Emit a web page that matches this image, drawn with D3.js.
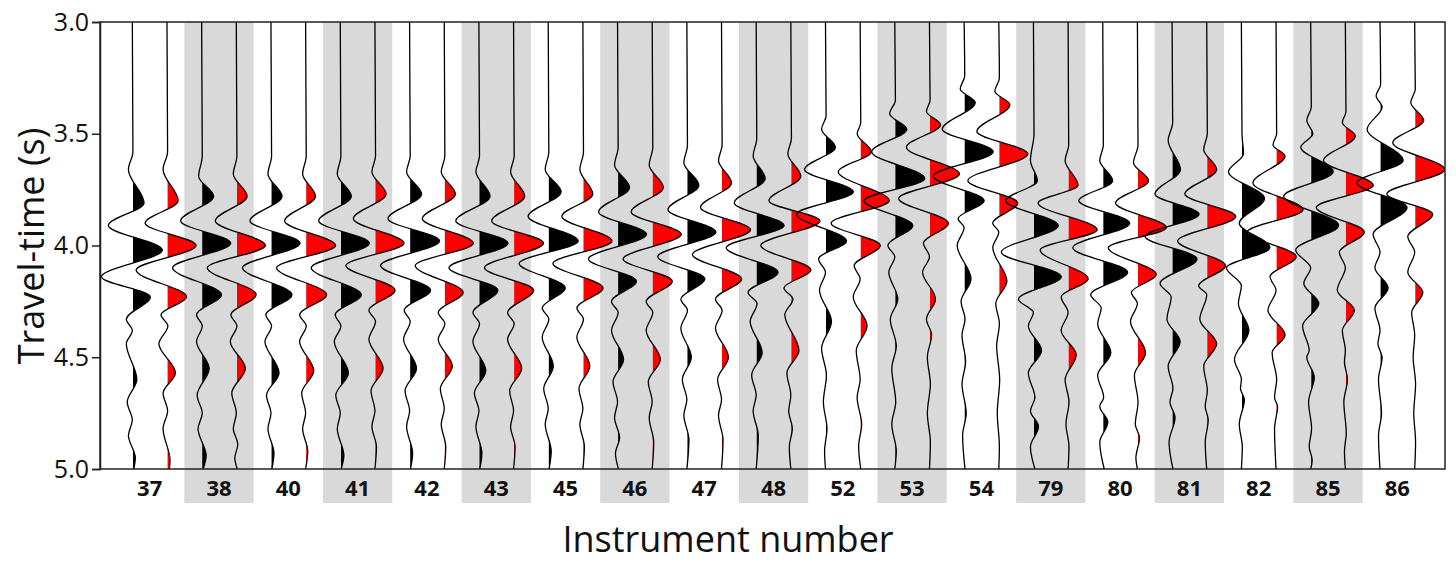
<!DOCTYPE html>
<html>
<head>
<meta charset="utf-8">
<script src="https://cdn.jsdelivr.net/npm/d3@7"></script>
<style>
  body { margin: 0; background: #fff; }
  svg { display: block; font-family: "Open Sans", "Noto Sans", sans-serif; }
</style>
</head>
<body>
<svg id="chart" width="1456" height="565"></svg>
<script>
// instrument numbers along the bottom
var instruments = ['37','38','40','41','42','43','45','46','47','48','52','53','54','79','80','81','82','85','86'];
var yTicks = [3.0, 3.5, 4.0, 4.5, 5.0];

// each trace: [travel-time (s), normalised amplitude] at zero level / lobe peaks
var blackTraces = [
  [[3.0,0],[3.58,0.02],[3.66,-0.13],[3.81,0.39],[3.91,-0.8],[4.02,1.0],[4.14,-1.03],[4.23,0.6],[4.33,-0.2],[4.38,0.0],[4.44,-0.2],[4.6,0.15],[4.7,-0.17],[4.78,0.0],[4.85,-0.13],[4.95,0.1],[5.0,0.05]],
  [[3.0,0],[3.6,0.02],[3.69,-0.1],[3.78,0.4],[3.89,-0.7],[3.99,0.97],[4.1,-0.97],[4.22,0.66],[4.31,-0.17],[4.36,0.02],[4.43,-0.17],[4.55,0.25],[4.67,-0.15],[4.75,0.02],[4.82,-0.12],[4.94,0.15],[5.0,0.05]],
  [[3.0,0],[3.6,0.02],[3.68,-0.1],[3.78,0.37],[3.89,-0.7],[3.99,0.97],[4.1,-0.95],[4.22,0.7],[4.31,-0.17],[4.36,0.02],[4.43,-0.2],[4.57,0.27],[4.67,-0.15],[4.75,0.0],[4.82,-0.1],[4.93,0.1],[5.0,0.03]],
  [[3.0,0],[3.6,0.02],[3.68,-0.1],[3.78,0.37],[3.89,-0.72],[3.99,0.97],[4.1,-0.97],[4.22,0.7],[4.31,-0.17],[4.36,0.02],[4.43,-0.2],[4.57,0.27],[4.67,-0.15],[4.75,0.0],[4.82,-0.1],[4.94,0.12],[5.0,0.03]],
  [[3.0,0],[3.6,0.02],[3.67,-0.1],[3.77,0.4],[3.88,-0.72],[3.98,1.0],[4.09,-0.97],[4.2,0.7],[4.29,-0.18],[4.34,0.02],[4.42,-0.2],[4.55,0.23],[4.65,-0.15],[4.74,0.0],[4.81,-0.1],[4.93,0.1],[5.0,0.03]],
  [[3.0,0],[3.6,0.02],[3.67,-0.1],[3.78,0.37],[3.89,-0.77],[3.99,0.97],[4.1,-1.0],[4.2,0.63],[4.3,-0.2],[4.35,0.02],[4.43,-0.2],[4.56,0.23],[4.66,-0.15],[4.74,0.0],[4.81,-0.1],[4.93,0.1],[5.0,0.03]],
  [[3.0,0],[3.58,0.02],[3.66,-0.1],[3.76,0.43],[3.87,-0.67],[3.98,1.0],[4.08,-0.97],[4.19,0.57],[4.28,-0.2],[4.33,0.02],[4.41,-0.2],[4.54,0.17],[4.64,-0.15],[4.73,0.0],[4.8,-0.1],[4.92,0.1],[5.0,0.03]],
  [[3.0,0],[3.56,0.02],[3.64,-0.1],[3.74,0.4],[3.85,-0.63],[3.95,0.97],[4.06,-0.97],[4.16,0.63],[4.25,-0.2],[4.3,0.02],[4.38,-0.2],[4.51,0.2],[4.61,-0.15],[4.7,0.0],[4.77,-0.1],[4.86,0.07],[4.93,-0.07],[5.0,0.03]],
  [[3.0,0],[3.55,0.02],[3.63,-0.1],[3.73,0.4],[3.84,-0.63],[3.94,0.97],[4.05,-0.97],[4.15,0.6],[4.24,-0.2],[4.29,0.02],[4.37,-0.2],[4.5,0.15],[4.6,-0.15],[4.69,0.0],[4.76,-0.1],[4.87,0.07],[5.0,0]],
  [[3.0,0],[3.52,0.02],[3.6,-0.1],[3.7,0.3],[3.81,-0.73],[3.91,0.93],[4.01,-1.0],[4.12,0.73],[4.21,-0.27],[4.26,0.03],[4.34,-0.2],[4.48,0.2],[4.58,-0.15],[4.67,0.0],[4.74,-0.1],[4.85,0.07],[5.0,0]],
  [[3.0,0],[3.42,0.02],[3.48,-0.13],[3.56,0.33],[3.66,-0.7],[3.76,0.93],[3.86,-0.97],[3.98,0.7],[4.06,-0.23],[4.12,0.0],[4.2,-0.2],[4.34,0.2],[4.46,-0.13],[4.58,0.03],[4.7,-0.07],[4.82,0.05],[4.92,-0.03],[5.0,0]],
  [[3.0,0],[3.35,0.02],[3.41,-0.17],[3.48,0.4],[3.58,-0.77],[3.7,1.0],[3.8,-1.03],[3.91,0.6],[4.0,-0.23],[4.05,0.0],[4.12,-0.2],[4.24,0.1],[4.33,-0.15],[4.45,0.05],[4.55,-0.1],[4.7,0.03],[4.8,-0.1],[4.92,0.05],[5.0,0]],
  [[3.0,0],[3.24,0.02],[3.3,-0.13],[3.36,0.37],[3.48,-0.73],[3.58,0.97],[3.69,-1.03],[3.8,0.67],[3.88,-0.2],[3.92,0.0],[4.0,-0.23],[4.15,0.23],[4.25,-0.1],[4.33,0.03],[4.4,-0.07],[4.52,0.05],[4.62,-0.07],[4.75,0.07],[4.85,-0.05],[5.0,0.03]],
  [[3.0,0],[3.5,0.02],[3.62,-0.1],[3.71,0.13],[3.8,-0.93],[3.91,0.83],[4.03,-1.07],[4.14,0.93],[4.24,-0.5],[4.3,0.0],[4.36,-0.17],[4.47,0.27],[4.57,-0.17],[4.68,0.05],[4.74,-0.1],[4.81,0.17],[4.9,-0.1],[5.0,0.05]],
  [[3.0,0],[3.55,0.02],[3.62,-0.1],[3.71,0.33],[3.8,-0.8],[3.9,0.9],[4.01,-1.0],[4.12,0.83],[4.22,-0.4],[4.28,-0.05],[4.35,-0.17],[4.48,0.27],[4.58,-0.17],[4.68,0.03],[4.72,-0.1],[4.79,0.17],[4.88,-0.1],[5.0,0.05]],
  [[3.0,0],[3.45,0.02],[3.53,-0.13],[3.66,0.28],[3.77,-0.57],[3.86,0.9],[3.96,-0.9],[4.06,0.83],[4.17,-0.4],[4.23,-0.03],[4.33,-0.17],[4.43,0.27],[4.54,-0.13],[4.64,0.03],[4.7,-0.07],[4.77,0.1],[4.88,-0.1],[5.0,0.03]],
  [[3.0,0],[3.5,0.02],[3.59,0.07],[3.67,-0.43],[3.79,0.77],[3.9,-0.07],[4.01,0.95],[4.1,-0.5],[4.18,0.0],[4.26,-0.1],[4.38,0.25],[4.51,-0.23],[4.6,0.0],[4.64,-0.03],[4.69,0.1],[4.8,-0.07],[4.9,0.03],[5.0,0]],
  [[3.0,0],[3.38,0.02],[3.44,-0.13],[3.5,0.07],[3.56,-0.33],[3.67,0.75],[3.78,-0.9],[3.91,0.93],[4.02,-0.5],[4.1,0.0],[4.17,-0.23],[4.26,0.27],[4.36,-0.27],[4.47,-0.05],[4.5,-0.13],[4.59,0.12],[4.7,-0.07],[4.82,0.03],[4.9,-0.05],[4.96,0.05],[5.0,0]],
  [[3.0,0],[3.28,0.02],[3.33,-0.13],[3.38,0.07],[3.48,-0.43],[3.62,0.77],[3.72,-0.77],[3.83,0.9],[3.95,-0.23],[4.03,0.0],[4.1,-0.17],[4.19,0.27],[4.28,-0.17],[4.38,0.0],[4.44,-0.07],[4.5,0.07],[4.6,-0.05],[4.75,0.05],[4.85,-0.05],[5.0,0]]
];

var redTraces = [
  [[3.0,0],[3.58,0.02],[3.66,-0.13],[3.8,0.37],[3.9,-0.73],[4.0,0.97],[4.11,-1.03],[4.23,0.65],[4.31,-0.2],[4.36,0.03],[4.44,-0.27],[4.57,0.28],[4.66,-0.13],[4.74,0.02],[4.82,-0.13],[4.96,0.1],[5.0,0.08]],
  [[3.0,0],[3.6,0.02],[3.68,-0.1],[3.78,0.36],[3.89,-0.7],[4.0,0.97],[4.1,-0.97],[4.22,0.66],[4.31,-0.18],[4.36,0.02],[4.43,-0.2],[4.55,0.3],[4.66,-0.15],[4.75,0.0],[4.82,-0.1],[4.89,0.05],[4.95,-0.05],[5.0,0.03]],
  [[3.0,0],[3.6,0.02],[3.68,-0.1],[3.78,0.33],[3.89,-0.7],[4.0,1.0],[4.1,-0.97],[4.22,0.7],[4.31,-0.2],[4.36,0.02],[4.43,-0.2],[4.56,0.27],[4.66,-0.13],[4.75,0.0],[4.82,-0.1],[4.92,0.07],[5.0,0]],
  [[3.0,0],[3.6,0.02],[3.67,-0.1],[3.77,0.37],[3.88,-0.72],[3.99,0.97],[4.09,-0.97],[4.2,0.67],[4.29,-0.2],[4.34,0.02],[4.42,-0.2],[4.55,0.27],[4.65,-0.13],[4.74,0.0],[4.81,-0.1],[4.9,0.05],[5.0,0]],
  [[3.0,0],[3.6,0.02],[3.67,-0.1],[3.77,0.37],[3.88,-0.73],[3.99,0.97],[4.09,-0.97],[4.21,0.63],[4.3,-0.2],[4.35,0.02],[4.42,-0.2],[4.54,0.27],[4.64,-0.13],[4.73,0.0],[4.8,-0.1],[4.9,0.05],[5.0,0]],
  [[3.0,0],[3.6,0.02],[3.67,-0.1],[3.78,0.37],[3.89,-0.73],[3.99,1.0],[4.1,-0.97],[4.2,0.67],[4.3,-0.2],[4.35,0.02],[4.42,-0.2],[4.55,0.27],[4.65,-0.13],[4.74,0.0],[4.81,-0.1],[4.9,0.05],[5.0,0]],
  [[3.0,0],[3.58,0.02],[3.66,-0.1],[3.77,0.33],[3.87,-0.7],[3.98,0.97],[4.08,-1.0],[4.19,0.67],[4.28,-0.2],[4.33,0.02],[4.41,-0.2],[4.54,0.23],[4.64,-0.13],[4.73,0.0],[4.8,-0.1],[4.9,0.05],[5.0,0]],
  [[3.0,0],[3.56,0.02],[3.64,-0.1],[3.74,0.37],[3.85,-0.7],[3.95,0.97],[4.06,-0.97],[4.16,0.67],[4.25,-0.2],[4.3,0.02],[4.38,-0.2],[4.51,0.27],[4.61,-0.13],[4.7,0.0],[4.77,-0.1],[4.88,0.05],[5.0,0]],
  [[3.0,0],[3.55,0.02],[3.62,-0.1],[3.72,0.33],[3.83,-0.7],[3.93,0.97],[4.04,-0.97],[4.15,0.67],[4.24,-0.2],[4.29,0.02],[4.37,-0.2],[4.5,0.23],[4.6,-0.13],[4.69,0.0],[4.76,-0.1],[4.87,0.05],[5.0,0]],
  [[3.0,0],[3.52,0.02],[3.59,-0.1],[3.69,0.33],[3.8,-0.73],[3.89,0.97],[4.0,-1.0],[4.11,0.67],[4.19,-0.23],[4.24,0.07],[4.31,-0.2],[4.47,0.27],[4.57,-0.13],[4.67,0.0],[4.74,-0.07],[4.82,0.05],[4.9,-0.05],[5.0,0]],
  [[3.0,0],[3.45,0.02],[3.5,-0.1],[3.58,0.37],[3.67,-0.73],[3.8,0.97],[3.9,-0.97],[4.0,0.67],[4.09,-0.2],[4.15,0.0],[4.23,-0.23],[4.36,0.23],[4.47,-0.13],[4.6,0.0],[4.68,-0.1],[4.8,0.05],[4.9,-0.05],[5.0,0.02]],
  [[3.0,0],[3.35,0.02],[3.4,-0.1],[3.46,0.37],[3.56,-0.77],[3.68,1.0],[3.79,-1.03],[3.9,0.63],[3.99,-0.2],[4.05,0.0],[4.12,-0.23],[4.24,0.2],[4.33,-0.1],[4.4,0.07],[4.5,-0.07],[4.62,0.03],[4.75,-0.07],[4.88,0.03],[5.0,0]],
  [[3.0,0],[3.25,0.02],[3.31,-0.13],[3.37,0.37],[3.49,-0.73],[3.59,0.97],[3.71,-1.03],[3.81,0.63],[3.9,-0.2],[3.94,0.0],[4.01,-0.2],[4.16,0.27],[4.26,-0.1],[4.35,0.02],[4.45,-0.07],[4.6,0.03],[4.75,-0.05],[4.9,0.02],[5.0,0]],
  [[3.0,0],[3.55,0.02],[3.62,-0.1],[3.73,0.33],[3.81,-1.0],[3.93,0.97],[4.02,-0.93],[4.15,0.67],[4.23,-0.23],[4.3,0.0],[4.38,-0.23],[4.49,0.27],[4.6,-0.1],[4.7,0.03],[4.8,-0.07],[4.9,0.03],[5.0,0]],
  [[3.0,0],[3.55,0.02],[3.63,-0.13],[3.71,0.37],[3.81,-0.73],[3.92,0.97],[4.01,-0.97],[4.13,0.63],[4.21,-0.2],[4.26,0.0],[4.34,-0.23],[4.48,0.27],[4.58,-0.1],[4.7,0.02],[4.8,-0.07],[4.86,0.07],[4.95,-0.05],[5.0,0]],
  [[3.0,0],[3.5,0.02],[3.57,-0.1],[3.66,0.33],[3.77,-0.73],[3.87,0.97],[3.98,-0.97],[4.09,0.63],[4.18,-0.27],[4.22,0.0],[4.33,-0.23],[4.44,0.33],[4.54,-0.1],[4.65,0.02],[4.72,-0.05],[4.78,0.05],[4.88,-0.05],[5.0,0]],
  [[3.0,0],[3.5,0.02],[3.55,-0.1],[3.6,0.3],[3.72,-0.77],[3.84,0.9],[3.94,-0.97],[4.05,0.67],[4.14,-0.2],[4.2,0.0],[4.29,-0.27],[4.4,0.3],[4.48,-0.13],[4.6,0.02],[4.68,-0.05],[4.72,0.05],[4.82,-0.05],[5.0,0]],
  [[3.0,0],[3.4,0.02],[3.45,-0.1],[3.51,0.33],[3.62,-0.73],[3.73,0.93],[3.83,-0.97],[3.94,0.63],[4.03,-0.2],[4.1,0.0],[4.2,-0.27],[4.29,0.3],[4.38,-0.1],[4.47,0.0],[4.52,-0.03],[4.6,0.07],[4.7,-0.05],[4.84,0.03],[4.92,-0.03],[5.0,0]],
  [[3.0,0],[3.3,0.02],[3.36,-0.13],[3.44,0.3],[3.54,-0.73],[3.66,1.0],[3.77,-0.93],[3.86,0.6],[3.96,-0.23],[4.03,0.0],[4.12,-0.23],[4.21,0.27],[4.3,-0.1],[4.4,0.0],[4.5,-0.05],[4.62,0.03],[4.75,-0.03],[4.88,0.03],[5.0,0]]
];

var svg = d3.select('#chart');
var plotLeft = 100, plotRight = 1445, plotTop = 22, plotBottom = 469;

var y = d3.scaleLinear().domain([3, 5]).range([plotTop, plotBottom]);
var x = d3.scaleBand().domain(instruments).range([115, 1432]);
var bw = x.bandwidth();
var amp = d3.scaleLinear().domain([0, 1]).range([0, 30]);

// alternate grey columns, running down under the labels
svg.append('g').selectAll('rect')
  .data(instruments.filter(function(d, i) { return i % 2 === 1; }))
  .enter().append('rect')
  .attr('x', function(d) { return x(d); })
  .attr('y', plotTop)
  .attr('width', bw)
  .attr('height', 503 - plotTop)
  .attr('fill', '#d9d9d9');

var defs = svg.append('defs');
defs.append('clipPath').attr('id', 'plot-clip')
  .append('rect').attr('x', plotLeft).attr('y', plotTop)
  .attr('width', plotRight - plotLeft).attr('height', plotBottom - plotTop);

var traces = [];
instruments.forEach(function(inst, i) {
  traces.push({ id: 'b' + i, base: x(inst) + bw / 4, pts: blackTraces[i], color: '#000' });
  traces.push({ id: 'r' + i, base: x(inst) + 3 * bw / 4, pts: redTraces[i], color: '#f00' });
});

var plot = svg.append('g').attr('clip-path', 'url(#plot-clip)');

traces.forEach(function(tr) {
  // only the right-hand (positive) side of each wiggle gets filled
  defs.append('clipPath').attr('id', 'pos-' + tr.id)
    .append('rect').attr('x', tr.base + 0.6).attr('y', plotTop)
    .attr('width', 60).attr('height', plotBottom - plotTop);

  var area = d3.area()
    .curve(d3.curveMonotoneY)
    .y(function(d) { return y(d[0]); })
    .x0(tr.base - 2)
    .x1(function(d) { return tr.base + amp(d[1]); });

  var line = d3.line()
    .curve(d3.curveMonotoneY)
    .y(function(d) { return y(d[0]); })
    .x(function(d) { return tr.base + amp(d[1]); });

  plot.append('path')
    .attr('d', area(tr.pts))
    .attr('clip-path', 'url(#pos-' + tr.id + ')')
    .attr('fill', tr.color);

  plot.append('path')
    .attr('d', line(tr.pts))
    .attr('fill', 'none')
    .attr('stroke', '#000')
    .attr('stroke-width', 1.3);
});

// frame
svg.append('rect')
  .attr('x', plotLeft).attr('y', plotTop)
  .attr('width', plotRight - plotLeft).attr('height', plotBottom - plotTop)
  .attr('fill', 'none').attr('stroke', '#222').attr('stroke-width', 1.5);

var yAxis = svg.append('g')
  .attr('transform', 'translate(' + plotLeft + ',0)')
  .call(d3.axisLeft(y).tickValues(yTicks).tickFormat(d3.format('.1f')).tickSize(8).tickPadding(3));
yAxis.select('.domain').attr('stroke', '#222').attr('stroke-width', 1.5);
yAxis.selectAll('.tick line').attr('stroke', '#222').attr('stroke-width', 1.5);
yAxis.selectAll('.tick text')
  .attr('fill', '#111')
  .style('font-family', '"Open Sans", sans-serif')
  .style('font-size', '25px');

svg.append('g').selectAll('text')
  .data(instruments)
  .enter().append('text')
  .attr('x', function(d) { return x(d) + bw / 2; })
  .attr('y', 496)
  .attr('text-anchor', 'middle')
  .style('font-size', '22px')
  .style('font-weight', 'bold')
  .attr('fill', '#111')
  .text(function(d) { return d; });

svg.append('text')
  .attr('x', 728)
  .attr('y', 552)
  .attr('text-anchor', 'middle')
  .style('font-size', '36px')
  .attr('fill', '#111')
  .text('Instrument number');

svg.append('text')
  .attr('transform', 'translate(44,246) rotate(-90)')
  .attr('text-anchor', 'middle')
  .style('font-size', '36px')
  .attr('fill', '#111')
  .text('Travel-time (s)');
</script>
</body>
</html>
